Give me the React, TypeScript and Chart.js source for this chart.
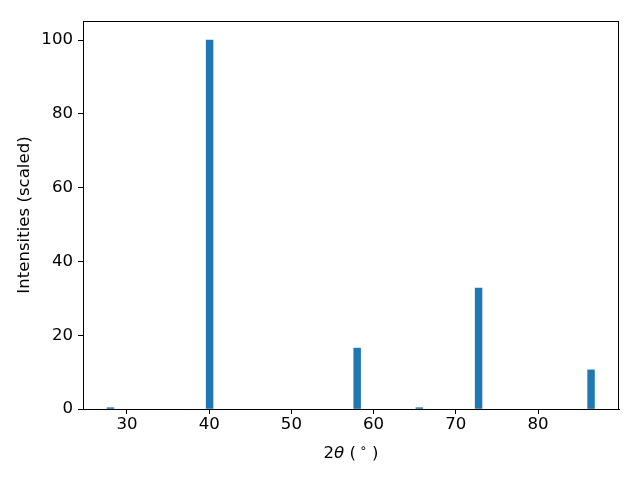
import React, { useEffect, useRef } from "react";
import { Chart, registerables } from "chart.js";

Chart.register(...registerables);

const peakPositions = [27.99, 40.05, 58.0, 65.56, 72.77, 86.45];
const peakIntensities = [0.35, 100, 16.5, 0.35, 32.8, 10.6];
const xTickValues = [30, 40, 50, 60, 70, 80];
const yTickValues = [0, 20, 40, 60, 80, 100];

const FONT = "'DejaVu Sans', sans-serif";
const FS = 16.6;

const framePlugin = {
  id: "frame",
  afterDatasetsDraw(chart: any) {
    const { ctx, chartArea } = chart;
    ctx.save();
    ctx.strokeStyle = "#000";
    ctx.lineWidth = 1;
    ctx.strokeRect(
      Math.round(chartArea.left) + 0.5,
      Math.round(chartArea.top) + 0.5,
      Math.round(chartArea.right - chartArea.left) - 1,
      Math.round(chartArea.bottom - chartArea.top)
    );
    ctx.restore();
  },
};

// x-axis title "2θ (°)" drawn with an italic theta and a raised small degree ring
const xTitlePlugin = {
  id: "xTitle",
  afterDraw(chart: any) {
    const { ctx, chartArea } = chart;
    const parts = [
      { t: "2", f: `${FS}px ${FONT}`, dy: 0 },
      { t: "θ", f: `italic ${FS}px ${FONT}`, dy: 0 },
      { t: " (", f: `${FS}px ${FONT}`, dy: 0 },
      { t: " ∘", f: `${FS * 0.7}px ${FONT}`, dy: -6.5 },
      { t: " )", f: `${FS}px ${FONT}`, dy: 0 },
    ];
    ctx.save();
    ctx.fillStyle = "#000";
    ctx.textBaseline = "alphabetic";
    ctx.textAlign = "left";
    let total = 0;
    const widths = parts.map((p) => {
      ctx.font = p.f;
      const w = ctx.measureText(p.t).width;
      total += w;
      return w;
    });
    let x = (chartArea.left + chartArea.right) / 2 - total / 2;
    const baseline = 458;
    parts.forEach((p, i) => {
      ctx.font = p.f;
      ctx.fillText(p.t, x, baseline + p.dy);
      x += widths[i];
    });
    ctx.restore();
  },
};

export default function App() {
  const ref = useRef<HTMLCanvasElement>(null);
  useEffect(() => {
    document.body.style.margin = "0";
    const chart = new Chart(ref.current!, {
      type: "bar",
      data: {
        datasets: [
          {
            data: peakPositions.map((x, i) => ({ x, y: peakIntensities[i] })),
            backgroundColor: "#1f77b4",
            borderWidth: 0,
            barThickness: 6.8,
            grouped: false,
          } as any,
        ],
      },
      options: {
        animation: false,
        responsive: false,
        devicePixelRatio: 1,
        layout: { padding: { top: 21, right: 21, left: 0, bottom: 0 } },
        plugins: { legend: { display: false }, tooltip: { enabled: false } },
        scales: {
          x: {
            type: "linear",
            min: 24.65,
            max: 89.85,
            offset: false,
            afterBuildTicks: (s: any) => {
              s.ticks = xTickValues.map((v) => ({ value: v }));
            },
            afterFit: (s: any) => {
              s.height = 71;
            },
            grid: {
              offset: false,
              drawOnChartArea: false,
              drawTicks: true,
              tickLength: 5,
              color: "#000",
            },
            border: { display: true, color: "#000", width: 1 },
            ticks: {
              color: "#000",
              font: { family: FONT, size: FS },
              padding: 1,
              maxRotation: 0,
              autoSkip: false,
            },
            title: { display: false },
          },
          y: {
            type: "linear",
            min: 0,
            max: 105.15,
            afterBuildTicks: (s: any) => {
              s.ticks = yTickValues.map((v) => ({ value: v }));
            },
            afterFit: (s: any) => {
              s.width = 83;
            },
            grid: {
              offset: false,
              drawOnChartArea: false,
              drawTicks: true,
              tickLength: 5,
              color: "#000",
            },
            border: { display: true, color: "#000", width: 1 },
            ticks: {
              color: "#000",
              font: { family: FONT, size: FS },
              padding: 5,
              autoSkip: false,
            },
            title: {
              display: true,
              text: "Intensities (scaled)",
              color: "#000",
              font: { family: FONT, size: FS },
              padding: { top: 15, bottom: 0 },
            },
          },
        },
      },
      plugins: [framePlugin, xTitlePlugin],
    });
    return () => chart.destroy();
  }, []);
  return (
    <div style={{ position: "absolute", left: 0, top: 0, width: 640, height: 480 }}>
      <canvas ref={ref} width={640} height={480} style={{ width: 640, height: 480 }} />
    </div>
  );
}
